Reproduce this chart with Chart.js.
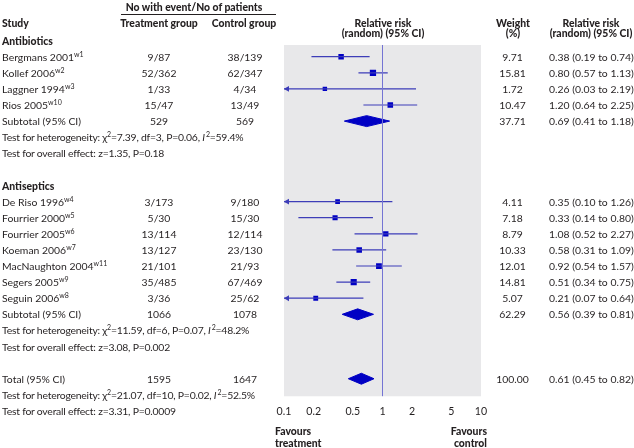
<!DOCTYPE html>
<html><head><meta charset="utf-8">
<script src="https://cdn.jsdelivr.net/npm/chart.js@4"></script>
<style>
body{margin:0;background:#fff}
#wrap{position:relative;width:634px;height:448px;font-family:Lato,"Open Sans",sans-serif;color:#231f20;font-size:10.4px;overflow:hidden}
canvas{position:absolute;left:0;top:0}
.t{position:absolute;white-space:nowrap;line-height:12px;transform:translateY(-50%)}
.c{transform:translate(-50%,-50%);text-align:center}
.r{transform:translate(-100%,-50%);text-align:right}
.b{font-weight:900}
.n{letter-spacing:-0.22px}
sup{font-size:7px;vertical-align:0;position:relative;top:-4px;line-height:0}
.hl{position:absolute;height:1px;background:#231f20}
</style></head>
<body>
<div id="wrap"><canvas id="c" width="634" height="448"></canvas></div>
<script>
// ---- data ----
const abStudies=['Bergmans 2001','Kollef 2006','Laggner 1994','Rios 2005'];
const abRefs=['w1','w2','w3','w10'];
const abTreat=['9/87','52/362','1/33','15/47'];
const abControl=['38/139','62/347','4/34','13/49'];
const abWeight=[9.71,15.81,1.72,10.47];
const abRR=[0.38,0.80,0.26,1.20];
const abLo=[0.19,0.57,0.03,0.64];
const abHi=[0.74,1.13,2.19,2.25];

const asStudies=['De Riso 1996','Fourrier 2000','Fourrier 2005','Koeman 2006','MacNaughton 2004','Segers 2005','Seguin 2006'];
const asRefs=['w4','w5','w6','w7','w11','w9','w8'];
const asTreat=['3/173','5/30','13/114','13/127','21/101','35/485','3/36'];
const asControl=['9/180','15/30','12/114','23/130','21/93','67/469','25/62'];
const asWeight=[4.11,7.18,8.79,10.33,12.01,14.81,5.07];
const asRR=[0.35,0.33,1.08,0.58,0.92,0.51,0.21];
const asLo=[0.10,0.14,0.52,0.31,0.54,0.34,0.07];
const asHi=[1.26,0.80,2.27,1.09,1.57,0.75,0.64];

const groupNames=['Antibiotics','Antiseptics'];
const poolLabels=['Subtotal (95% CI)','Subtotal (95% CI)','Total (95% CI)'];
const poolTreat=['529','1066','1595'];
const poolControl=['569','1078','1647'];
const poolWeight=[37.71,62.29,100.00];
const poolRR=[0.69,0.56,0.61];
const poolLo=[0.41,0.39,0.45];
const poolHi=[1.18,0.81,0.82];
const hetChi=['7.39','11.59','21.07'];
const hetDf=['3','6','10'];
const hetP=['0.06','0.07','0.02'];
const hetI2=['59.4','48.2','52.5'];
const effZ=['1.35','3.08','3.31'];
const effP=['0.18','0.002','0.0009'];
const xTicks=[0.1,0.2,0.5,1,2,5,10];

// ---- build rows ----
const XMIN=0.1, XMAX=10, YMIN=-0.727, YMAX=21.09;
const groups=[
  {names:abStudies,refs:abRefs,tr:abTreat,co:abControl,w:abWeight,rr:abRR,lo:abLo,hi:abHi},
  {names:asStudies,refs:asRefs,tr:asTreat,co:asControl,w:asWeight,rr:asRR,lo:asLo,hi:asHi}
];
const studyRows=[], poolRows=[], textRows=[];
let row=0;
groups.forEach((g,gi)=>{
  textRows.push({y:row-1,kind:'group',label:groupNames[gi]});
  g.names.forEach((n,i)=>{
    studyRows.push({y:row,name:n,ref:g.refs[i],tr:g.tr[i],co:g.co[i],w:g.w[i],rr:g.rr[i],lo:g.lo[i],hi:g.hi[i]});
    row++;
  });
  poolRows.push({y:row,idx:gi}); row++;
  textRows.push({y:row,kind:'het',idx:gi}); row++;
  textRows.push({y:row,kind:'eff',idx:gi}); row++;
  row+=2;
});
row--; // total row
poolRows.push({y:row,idx:2}); row++;
textRows.push({y:row,kind:'het',idx:2}); row++;
textRows.push({y:row,kind:'eff',idx:2});

const LINE='#3d3db8', MARK='#0000c4', REF='#7474d4';
const datasets=[];
datasets.push({data:[{x:1,y:YMIN},{x:1,y:YMAX}],showLine:true,borderColor:REF,borderWidth:1,pointRadius:0});
studyRows.forEach(s=>{
  datasets.push({data:[{x:Math.max(s.lo,XMIN),y:s.y},{x:Math.min(s.hi,XMAX),y:s.y}],showLine:true,borderColor:LINE,borderWidth:1.2,pointRadius:0});
});
datasets.push({data:studyRows.map(s=>({x:s.rr,y:s.y})),pointStyle:'rect',
  pointRadius:studyRows.map(s=>(4.2+s.w*0.13)/Math.SQRT2),backgroundColor:MARK,borderWidth:0});
const clipped=studyRows.filter(s=>s.lo<=XMIN);
datasets.push({data:clipped.map(s=>({x:XMIN*1.08,y:s.y})),pointStyle:'triangle',rotation:-90,
  pointRadius:3.4,backgroundColor:LINE,borderColor:LINE,borderWidth:0});
poolRows.forEach(p=>{
  const i=p.idx,h=0.34;
  datasets.push({data:[{x:poolLo[i],y:p.y},{x:poolRR[i],y:p.y-h},{x:poolHi[i],y:p.y},{x:poolRR[i],y:p.y+h},{x:poolLo[i],y:p.y}],
    showLine:true,fill:'shape',backgroundColor:MARK,borderColor:MARK,borderWidth:1,pointRadius:0,tension:0});
});

const bgPlugin={id:'bg',beforeDraw(c){const a=c.chartArea,ctx=c.ctx;ctx.save();ctx.fillStyle='#e8e8ea';
  ctx.fillRect(a.left,a.top,a.right-a.left,a.bottom-a.top);ctx.restore();}};

const chart=new Chart(document.getElementById('c'),{
  type:'scatter',
  data:{datasets},
  plugins:[bgPlugin],
  options:{
    responsive:false,animation:false,
    layout:{padding:{left:284,right:153,top:45,bottom:29}},
    plugins:{legend:{display:false},tooltip:{enabled:false}},
    scales:{
      x:{type:'logarithmic',min:XMIN,max:XMAX,
        afterBuildTicks(s){s.ticks=xTicks.map(v=>({value:v}));},
        ticks:{autoSkip:false,maxRotation:0,padding:1,color:'#231f20',font:{family:'Lato',size:10.6},callback:v=>String(v)},
        grid:{display:false},border:{display:false}},
      y:{type:'linear',min:YMIN,max:YMAX,reverse:true,display:false}
    }
  }
});

// ---- text ----
const wrap=document.getElementById('wrap');
const ys=v=>chart.scales.y.getPixelForValue(v);
function txt(html,x,y,cls){const d=document.createElement('div');d.className='t '+(cls||'');d.innerHTML=html;
  d.style.left=x+'px';d.style.top=y+'px';wrap.appendChild(d);}
const X_NAME=2,X_TR=159,X_CO=245,X_W=512.5,X_RR=549;
const fmt=(r,l,h)=>`${r.toFixed(2)} (${l.toFixed(2)} to ${h.toFixed(2)})`;

txt('No with event/No of patients',194,7,'c b');
const hl=document.createElement('div');hl.className='hl';hl.style.left='121px';hl.style.top='14px';hl.style.width='155px';wrap.appendChild(hl);
txt('Study',X_NAME,23,'b');
txt('Treatment group',X_TR,23,'c b');
txt('Control group',X_CO-1,23,'c b');
txt('Relative risk',383,23,'c b');
txt('(random) (95% CI)',383,33,'c b');
txt('Weight',513,23,'c b');
txt('(%)',513,33,'c b');
txt('Relative risk',591,23,'c b');
txt('(random) (95% CI)',591,33,'c b');

studyRows.forEach(s=>{
  const y=ys(s.y);
  txt(`${s.name}<sup>${s.ref}</sup>`,X_NAME,y);
  txt(s.tr,X_TR,y,'c');
  txt(s.co,X_CO,y,'c');
  txt(s.w.toFixed(2),X_W,y,'c');
  txt(fmt(s.rr,s.lo,s.hi),X_RR,y);
});
poolRows.forEach(p=>{
  const y=ys(p.y),i=p.idx;
  txt(poolLabels[i],X_NAME,y);
  txt(poolTreat[i],X_TR,y,'c');
  txt(poolControl[i],X_CO,y,'c');
  txt(poolWeight[i].toFixed(2),X_W,y,'c');
  txt(fmt(poolRR[i],poolLo[i],poolHi[i]),X_RR,y);
});
textRows.forEach(r=>{
  const y=ys(r.y);
  if(r.kind==='group') txt(r.label,X_NAME,y,'b');
  else if(r.kind==='het') txt(`Test for heterogeneity: &chi;<sup>2</sup>=${hetChi[r.idx]}, df=${hetDf[r.idx]}, P=${hetP[r.idx]}, <i>I</i>&thinsp;<sup>2</sup>=${hetI2[r.idx]}%`,X_NAME,y,'n');
  else txt(`Test for overall effect: z=${effZ[r.idx]}, P=${effP[r.idx]}`,X_NAME,y,'n');
});
txt('Favours<br>treatment',275,437,'b');
txt('Favours<br>control',487,437,'r b');
</script>
</body></html>
